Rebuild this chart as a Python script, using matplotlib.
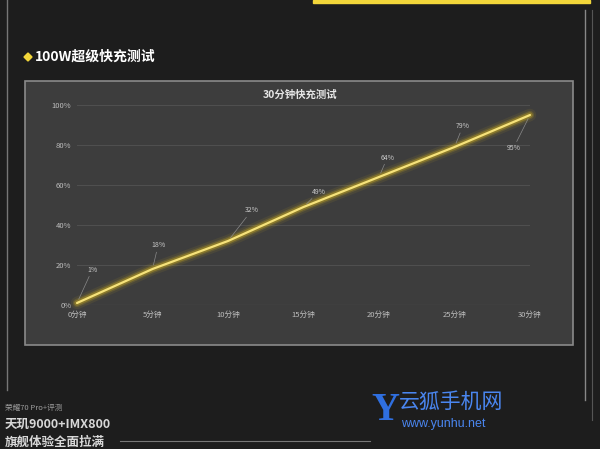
import matplotlib
matplotlib.use('Agg')
import matplotlib.pyplot as plt
from matplotlib.patches import Rectangle, Polygon

plt.rcParams['font.family'] = ['Noto Sans CJK SC', 'DejaVu Sans']

# data
minutes = [0, 5, 10, 15, 20, 25, 30]
percent = [1, 18, 32, 49, 64, 79, 95]
x_labels = ['0分钟', '5分钟', '10分钟', '15分钟', '20分钟', '25分钟', '30分钟']
y_ticks = [0, 20, 40, 60, 80, 100]
# label offsets in points (hand placed to look like the reference)
label_offsets = [(11, 24), (4, 17), (17, 22), (11, 11), (6, 14), (6, 15), (-12, -24)]

W, H = 600, 449
fig = plt.figure(figsize=(6, 4.49), dpi=100)
fig.patch.set_facecolor('#1d1d1d')

def px(x, y, w, h):
    # pixel box (top-left origin) -> figure fraction
    return (x / W, 1 - (y + h) / H, w / W, h / H)

# background frame decorations
bx, by, bw, bh = px(313, 0, 277, 3)
fig.patches.append(Rectangle((bx, by), bw, bh, transform=fig.transFigure,
                             color='#f2d63a', zorder=-5))
fig.add_artist(plt.Line2D([7 / W, 7 / W], [1, 1 - 390 / H], color='#777777', lw=1))
fig.add_artist(plt.Line2D([585 / W, 585 / W], [1 - 10 / H, 1 - 400 / H], color='#888888', lw=1))
fig.add_artist(plt.Line2D([592 / W, 592 / W], [1 - 10 / H, 1 - 420 / H], color='#555555', lw=0.8))
fig.add_artist(plt.Line2D([120 / W, 370 / W], [1 - 441 / H, 1 - 441 / H], color='#777777', lw=0.8))

# gray panel
pxl, pyb, pw, ph = px(25, 81, 548, 264)
fig.patches.append(Rectangle((pxl, pyb), pw, ph, transform=fig.transFigure,
                             facecolor='#3d3d3d', edgecolor='#8a8a8a', lw=1.2, zorder=-5))

# header
d = 4
cx, cy = 28 / W, 1 - 57 / H
fig.patches.append(Polygon([(cx, cy + d / H), (cx + d / W, cy), (cx, cy - d / H), (cx - d / W, cy)],
                           transform=fig.transFigure, color='#f2d63a'))
fig.text(35 / W, 1 - 57 / H, '100W超级快充测试', color='white', fontsize=10,
         fontweight='bold', va='center', ha='left')

# chart
ax = fig.add_axes([77 / W, 1 - 305 / H, 453 / W, 200 / H])
ax.set_facecolor('none')
ax.set_zorder(2)
ax.set_xlim(0, 30)
ax.set_ylim(0, 100)
for s in ax.spines.values():
    s.set_visible(False)
ax.set_yticks(y_ticks)
ax.set_yticklabels([f'{v}%' for v in y_ticks])
ax.set_xticks(minutes)
ax.set_xticklabels(x_labels)
ax.tick_params(colors='#bdbdbd', labelsize=5.5, length=0, pad=4)
ax.grid(axis='y', color='#505050', lw=0.7)
ax.axhline(0, color='#6a6a6a', lw=0.8)

# glowing line
for lw, a in [(9, 0.08), (6, 0.15), (4, 0.3)]:
    ax.plot(minutes, percent, color='#e8c21a', lw=lw, alpha=a, solid_capstyle='round', clip_on=False)
ax.plot(minutes, percent, color='#f6e27a', lw=1.6, solid_capstyle='round', clip_on=False)

for x, y, off in zip(minutes, percent, label_offsets):
    ax.annotate(f'{y}%', (x, y), xytext=off, textcoords='offset points',
                color='#c8c8c8', fontsize=5, ha='center', va='center',
                arrowprops=dict(arrowstyle='-', color='#8a8a8a', lw=0.5, shrinkB=3, shrinkA=0))

fig.text(300 / W, 1 - 95 / H, '30分钟快充测试', color='#e6e6e6', fontsize=7.5,
         fontweight='bold', ha='center', va='center')

# bottom-left texts
fig.text(5 / W, 1 - 408 / H, '荣耀70 Pro+评测', color='#9a9a9a', fontsize=5.5, va='center')
fig.text(5 / W, 1 - 424 / H, '天玑9000+IMX800', color='#d8d8d8', fontsize=9,
         fontweight='bold', va='center')
fig.text(5 / W, 1 - 442 / H, '旗舰体验全面拉满', color='#d8d8d8', fontsize=9,
         fontweight='bold', va='center')

# watermark
fig.text(385 / W, 1 - 410 / H, 'Y', color='#2f6fe0', fontsize=28, fontweight='bold',
         va='center', ha='center', family='Liberation Serif')
fig.text(399 / W, 1 - 402 / H, '云狐手机网', color='#4a86f0', fontsize=15,
         va='center', ha='left')
fig.text(401 / W, 1 - 424 / H, 'www.yunhu.net', color='#4a86f0', fontsize=9,
         va='center', ha='left', family='Liberation Sans')

fig.savefig('out.png', dpi=100, facecolor=fig.get_facecolor())
